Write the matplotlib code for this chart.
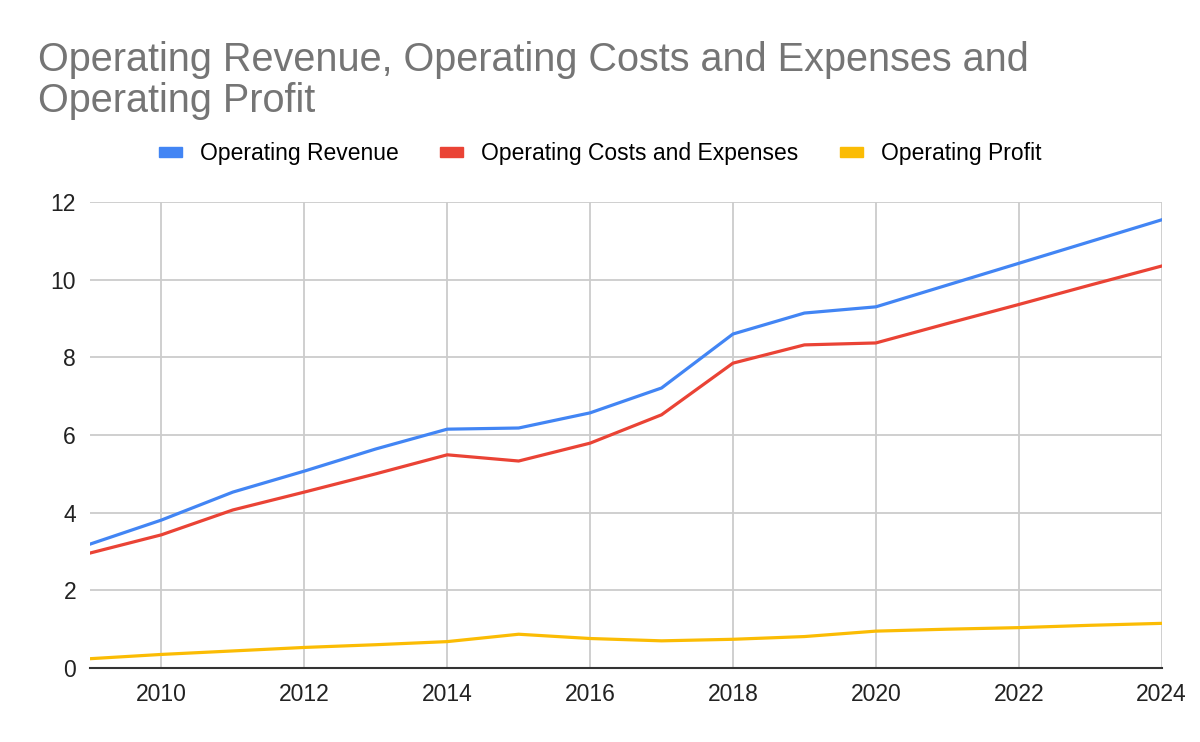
import matplotlib.pyplot as plt
from matplotlib.patches import Patch

years = list(range(2009, 2025))
revenue = [3.19, 3.81, 4.53, 5.07, 5.64, 6.15, 6.18, 6.57, 7.21, 8.60, 9.14, 9.30, 9.86, 10.42, 10.98, 11.54]
costs = [2.96, 3.43, 4.07, 4.53, 5.00, 5.49, 5.33, 5.79, 6.52, 7.85, 8.32, 8.37, 8.87, 9.36, 9.86, 10.35]
profit = [0.24, 0.35, 0.44, 0.53, 0.60, 0.68, 0.87, 0.76, 0.70, 0.74, 0.81, 0.95, 1.00, 1.04, 1.10, 1.15]

names = ['Operating Revenue', 'Operating Costs and Expenses', 'Operating Profit']
colors = ['#4285f4', '#ea4335', '#fbbc04']

plt.rcParams['font.family'] = ['Liberation Sans', 'DejaVu Sans']

fig = plt.figure(figsize=(12, 7.42), dpi=100)
ax = fig.add_axes([0.075, 0.0997, 0.893, 0.6281])

for vals, c in zip([revenue, costs, profit], colors):
    ax.plot(years, vals, color=c, lw=2.3, solid_joinstyle='round', zorder=3)

ax.set_xlim(2009, 2024)
ax.set_ylim(0, 12)
ax.set_xticks(range(2010, 2025, 2))
ax.set_yticks(range(0, 13, 2))
ax.grid(True, color='#cccccc', lw=1.3)
ax.set_axisbelow(True)
for s in ['top', 'right', 'left']:
    ax.spines[s].set_visible(False)
ax.spines['bottom'].set_color('#333333')
ax.spines['bottom'].set_linewidth(1.5)
ax.tick_params(length=0, labelsize=16.5, colors='#222222')
ax.tick_params(axis='x', pad=11)
ax.tick_params(axis='y', pad=10)

fig.text(0.032, 0.945, 'Operating Revenue, Operating Costs and Expenses and\nOperating Profit',
         fontsize=28.5, color='#757575', va='top', ha='left', linespacing=1.12)

handles = [Patch(color=c) for c in colors]
fig.legend(handles, names, loc='center', bbox_to_anchor=(0.5, 0.793), ncol=3, frameon=False,
           fontsize=16.5, handlelength=1.0, handleheight=0.26, handletextpad=0.8, columnspacing=1.8)

fig.savefig('out.png', dpi=100)
